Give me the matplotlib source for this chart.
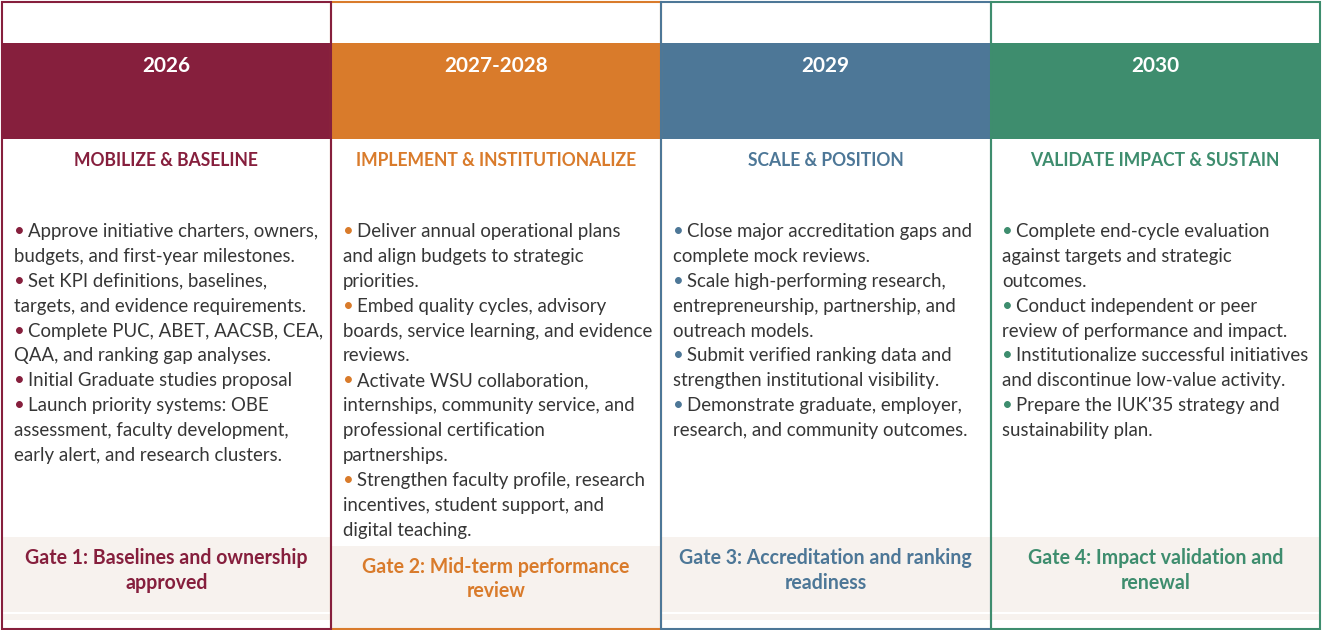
import matplotlib
matplotlib.use("Agg")
import matplotlib.pyplot as plt
from matplotlib.patches import Rectangle

# ---------------- data ----------------
years = ["2026", "2027-2028", "2029", "2030"]
phases = ["MOBILIZE & BASELINE", "IMPLEMENT & INSTITUTIONALIZE",
          "SCALE & POSITION", "VALIDATE IMPACT & SUSTAIN"]
colors = ["#861F3D", "#D97B2B", "#4D7797", "#3E8D6E"]

bullets_2026 = [
    ["Approve initiative charters, owners,", "budgets, and first-year milestones."],
    ["Set KPI definitions, baselines,", "targets, and evidence requirements."],
    ["Complete PUC, ABET, AACSB, CEA,", "QAA, and ranking gap analyses."],
    ["Initial Graduate studies proposal"],
    ["Launch priority systems: OBE", "assessment, faculty development,",
     "early alert, and research clusters."],
]
bullets_2027 = [
    ["Deliver annual operational plans", "and align budgets to strategic", "priorities."],
    ["Embed quality cycles, advisory", "boards, service learning, and evidence", "reviews."],
    ["Activate WSU collaboration,", "internships, community service, and",
     "professional certification", "partnerships."],
    ["Strengthen faculty profile, research", "incentives, student support, and",
     "digital teaching."],
]
bullets_2029 = [
    ["Close major accreditation gaps and", "complete mock reviews."],
    ["Scale high-performing research,", "entrepreneurship, partnership, and",
     "outreach models."],
    ["Submit verified ranking data and", "strengthen institutional visibility."],
    ["Demonstrate graduate, employer,", "research, and community outcomes."],
]
bullets_2030 = [
    ["Complete end-cycle evaluation", "against targets and strategic", "outcomes."],
    ["Conduct independent or peer", "review of performance and impact."],
    ["Institutionalize successful initiatives", "and discontinue low-value activity."],
    ["Prepare the IUK'35 strategy and", "sustainability plan."],
]
bullets = [bullets_2026, bullets_2027, bullets_2029, bullets_2030]

gates = [
    ["Gate 1: Baselines and ownership", "approved"],
    ["Gate 2: Mid-term performance", "review"],
    ["Gate 3: Accreditation and ranking", "readiness"],
    ["Gate 4: Impact validation and", "renewal"],
]

# ---------------- layout ----------------
W, H = 1323, 630
FONT = ["Lato", "DejaVu Sans"]
TEXT = "#363636"
GATE_BG = "#F7F2EE"
edges = [1.5, 331, 661, 990.5, 1320]

fig = plt.figure(figsize=(W / 100, H / 100), dpi=100)
ax = fig.add_axes([0, 0, 1, 1])
ax.set_xlim(0, W)
ax.set_ylim(H, 0)
ax.axis("off")
renderer = fig.canvas.get_renderer()


def width_at12(s, weight):
    t = ax.text(0, 0, s, fontsize=12, fontweight=weight, family=FONT)
    w = t.get_window_extent(renderer).width
    t.remove()
    return w


def fit(strings, target_total, weight):
    total = sum(width_at12(s, weight) for s in strings)
    return 12 * target_total / total


fs_body = fit(["boards, service learning, and evidence"], 309, "normal")
fs_title = fit(phases, 875, "bold")
fs_year = fit(["2026"], 48, "bold")
fs_gate = fit(["Gate 1: Baselines and ownership"], 281, "bold")

line_h = 24.9
for i in range(4):
    x0, x1 = edges[i], edges[i + 1]
    cx = (x0 + x1) / 2
    c = colors[i]
    # header band
    ax.add_patch(Rectangle((x0 + 1, 42.5), x1 - x0 - 1, 96, facecolor=c,
                           edgecolor="none", zorder=1))
    # gate background
    if i == 1:
        ax.add_patch(Rectangle((x0 + 1, 546), x1 - x0 - 2, 82, facecolor=GATE_BG,
                               edgecolor="none", zorder=1))
        gy = [573, 597]
    else:
        ax.add_patch(Rectangle((x0 + 1, 537), x1 - x0 - 2, 75, facecolor=GATE_BG,
                               edgecolor="none", zorder=1))
        ax.add_patch(Rectangle((x0 + 1, 614), x1 - x0 - 2, 6, facecolor=GATE_BG,
                               edgecolor="none", zorder=1))
        gy = [564.5, 589]
    # texts
    ax.text(cx, 72, years[i], color="white", fontsize=fs_year, fontweight="bold",
            family=FONT, ha="center", va="baseline", zorder=3)
    ax.text(cx, 166, phases[i], color=c, fontsize=fs_title, fontweight="bold",
            family=FONT, ha="center", va="baseline", zorder=3)
    for k, g in enumerate(gates[i]):
        ax.text(cx, gy[k], g, color=c, fontsize=fs_gate, fontweight="bold",
                family=FONT, ha="center", va="baseline", zorder=3)
    y = 237
    lx = x0 + 12
    for b in bullets[i]:
        for j, line in enumerate(b):
            if j == 0:
                ax.text(lx, y, "\u2022", color=c, fontsize=fs_body, family=FONT,
                        ha="left", va="baseline", zorder=3)
                ax.text(lx + 14, y, line, color=TEXT, fontsize=fs_body, family=FONT,
                        ha="left", va="baseline", zorder=3)
            else:
                ax.text(lx, y, line, color=TEXT, fontsize=fs_body, family=FONT,
                        ha="left", va="baseline", zorder=3)
            y += line_h

# borders (drawing order so neighbours overlap as in the reference)
for i in [1, 0, 2, 3]:
    x0, x1 = edges[i], edges[i + 1]
    ax.add_patch(Rectangle((x0, 1.5), x1 - x0, 627, facecolor="none",
                           edgecolor=colors[i], linewidth=1.5, zorder=4))

fig.savefig("out.png", dpi=100)
